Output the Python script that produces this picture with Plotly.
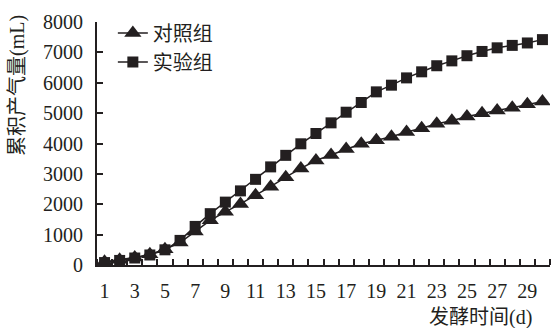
import plotly.graph_objects as go

# Fermentation day
days = list(range(1, 31))

# Cumulative gas production (mL)
control = [110, 170, 250, 350, 520, 740, 1100, 1470, 1750, 2010,
           2300, 2580, 2890, 3180, 3440, 3620, 3820, 3990, 4110, 4220,
           4380, 4500, 4650, 4750, 4890, 5000, 5090, 5180, 5290, 5380]
treatment = [80, 150, 230, 330, 500, 810, 1270, 1690, 2070, 2440,
             2820, 3230, 3610, 3990, 4330, 4680, 5030, 5350, 5700, 5920,
             6160, 6360, 6560, 6720, 6890, 7030, 7150, 7230, 7310, 7420]

x_tick_vals = list(range(1, 30, 2))
x_tick_text = [str(v) for v in x_tick_vals]
y_tick_vals = list(range(0, 8001, 1000))

FONT = "Liberation Serif, Noto Sans CJK SC"
INK = "#231f20"

fig = go.Figure()
fig.add_trace(go.Scatter(
    x=days, y=control, name="对照组", mode="lines+markers",
    line=dict(color=INK, width=1.5),
    marker=dict(symbol="triangle-up", size=15, color=INK),
))
fig.add_trace(go.Scatter(
    x=days, y=treatment, name="实验组", mode="lines+markers",
    line=dict(color=INK, width=1.5),
    marker=dict(symbol="square", size=11, color=INK),
))

fig.update_layout(
    width=552, height=328,
    margin=dict(l=97, r=2, t=22, b=63),
    paper_bgcolor="white", plot_bgcolor="white",
    font=dict(family=FONT, size=20, color=INK),
    showlegend=True,
    legend=dict(x=0.035, y=1.035, xanchor="left", yanchor="top",
                bgcolor="rgba(0,0,0,0)", font=dict(size=20),
                tracegroupgap=0, itemwidth=30),
    xaxis=dict(
        range=[0.5, 30.5], showgrid=False, zeroline=False,
        showline=True, linecolor=INK, linewidth=2,
        tickmode="array", tickvals=x_tick_vals, ticktext=x_tick_text,
        ticks="", ticklabelstandoff=7,
        minor=dict(tickmode="linear", tick0=0.5, dtick=1,
                   ticks="inside", ticklen=6, tickwidth=1.5, tickcolor=INK,
                   showgrid=False),
    ),
    yaxis=dict(
        range=[0, 8000], showgrid=False, zeroline=False,
        showline=True, linecolor=INK, linewidth=2,
        tickmode="array", tickvals=y_tick_vals,
        ticks="inside", ticklen=6, tickwidth=1.5, tickcolor=INK,
        ticklabelstandoff=8,
    ),
    annotations=[
        dict(text="累积产气量(mL)", textangle=-90, showarrow=False,
             xref="paper", yref="paper", x=-0.177, y=0.74,
             xanchor="center", yanchor="middle", font=dict(size=20)),
        dict(text="发酵时间(d)", showarrow=False,
             xref="paper", yref="paper", x=0.847, y=-0.218,
             xanchor="center", yanchor="middle", font=dict(size=20)),
    ],
)

fig.write_html("out.html")
